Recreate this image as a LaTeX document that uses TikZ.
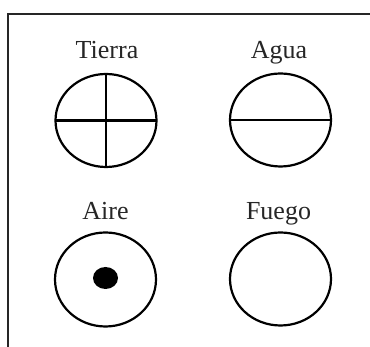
\documentclass[tikz,border=0pt]{standalone}
\usepackage{fontspec}
\setmainfont{Liberation Serif}
\begin{document}
\begin{tikzpicture}[x=1pt,y=1pt,
  sym/.style={draw=black,line width=2.2pt},
  lbl/.style={anchor=base,inner sep=0pt,font=\fontsize{26}{30}\selectfont,text=black!85},
  frame/.style={draw=black!85,line width=2.2pt}]
\useasboundingbox (0,0) rectangle (370,347);
% frame
\coordinate (fbl) at (8,-2);
\coordinate (ftl) at (8,333);
\coordinate (ftr) at (372,333);
\draw[frame] (fbl) -- (ftl) -- (ftr);
% labels
\node[lbl] (tierra) at (107,288.5) {Tierra};
\node[lbl] (agua) at (279,288.5) {Agua};
\node[lbl] (aire) at (105.5,127.7) {Aire};
\node[lbl] (fuego) at (278.5,127.7) {Fuego};
% Tierra
\coordinate (t) at (106,226.5);
\draw[sym] (t) ellipse [x radius=50.5, y radius=46.5];
\draw[sym] ([xshift=-50.5pt]t) -- ([xshift=50.5pt]t);
\draw[sym] ([yshift=-46.5pt]t) -- ([yshift=46.5pt]t);
% Agua
\coordinate (a) at (280.5,227);
\draw[sym] (a) ellipse [x radius=50.5, y radius=46.5];
\draw[sym] ([xshift=-50.5pt]a) -- ([xshift=50.5pt]a);
% Aire
\coordinate (r) at (105.5,67.5);
\draw[sym] (r) ellipse [x radius=50.5, y radius=47];
\fill[black] (105.5,69) ellipse [x radius=12.5, y radius=11];
% Fuego
\coordinate (f) at (280.5,68);
\draw[sym] (f) ellipse [x radius=50.5, y radius=46.5];
\end{tikzpicture}
\end{document}
